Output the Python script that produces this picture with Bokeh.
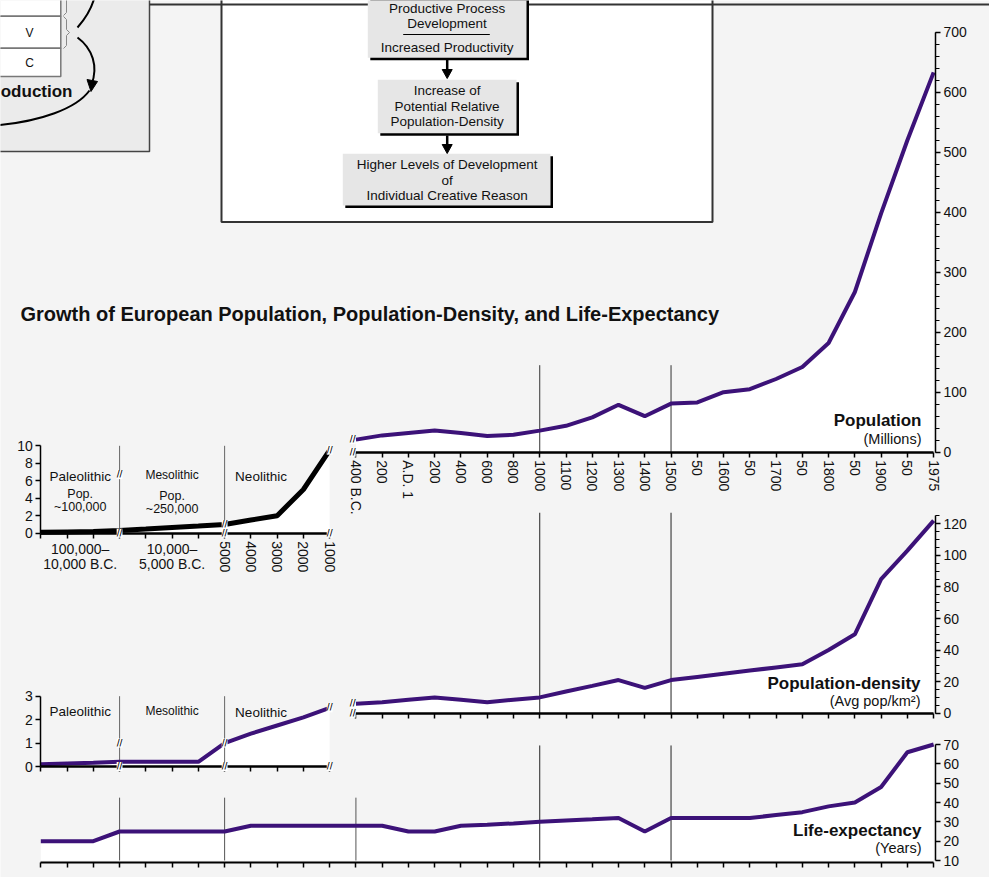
import math
from bokeh.plotting import figure
from bokeh.models import Range1d, LinearAxis, FixedTicker, SingleIntervalTicker
from bokeh.core.properties import value
from bokeh.embed import file_html
from bokeh.resources import INLINE

# ---------------- data ----------------
# prehistoric slots 0..11 : Paleolithic 0-3, Mesolithic 3-7, Neolithic 7-11 (5000..1000 B.C.)
pre_tick_labels = ["", "", "", "", "", "", "", "5000", "4000", "3000", "2000", "1000"]
pre_population = [0.1, 0.15, 0.2, 0.3, 0.47, 0.65, 0.82, 1.0, 1.5, 2.0, 5.0, 9.5]      # millions
pre_density = [0.1, 0.13, 0.16, 0.2, 0.2, 0.2, 0.2, 1.0, 1.4, 1.75, 2.1, 2.5]          # pop/km2
era_names = ["Paleolithic", "Mesolithic", "Neolithic"]
era_bounds = [0, 3, 7, 11]
era_pop_notes = ["~100,000", "~250,000"]
era_span_top = ["100,000–", "10,000–"]
era_span_bottom = ["10,000 B.C.", "5,000 B.C."]

# historic slots 12..34
hist_tick_labels = ["400 B.C.", "200", "A.D. 1", "200", "400", "600", "800", "1000", "1100",
                    "1200", "1300", "1400", "1500", "50", "1600", "50", "1700", "50", "1800",
                    "50", "1900", "50", "1975"]
hist_population = [21, 28, 32, 36, 32, 27, 29, 36, 44, 58, 79, 60, 81, 83, 100, 105, 122,
                   142, 182, 267, 398, 520, 633]
hist_density = [6, 7, 8.5, 10, 8.5, 7, 8.5, 10, 13.7, 17.3, 21, 16, 21, 23, 25, 27, 29, 31,
                40, 50, 85, 103, 122]
# life expectancy over all 35 slots (prehistoric + historic)
life_expectancy = [20, 20, 20, 25, 25, 25, 25, 25, 28, 28, 28, 28, 28, 28, 25, 25, 28, 28.5,
                   29.2, 30, 30.7, 31.3, 32, 25, 32, 32, 32, 32, 33.5, 35, 38, 40, 48, 66, 70]
marked_years = ["1000", "1500"]

pre_x = list(range(len(pre_population)))
hist_x = [len(pre_x) + i for i in range(len(hist_population))]
all_x = pre_x + hist_x
mark_x = [hist_x[hist_tick_labels.index(y)] for y in marked_years]
era_div = era_bounds[1:3]
era_center = [(era_bounds[i] + era_bounds[i + 1]) / 2 for i in range(3)]

# ---------------- layout ----------------
W, H, OFF = 989, 877, 0
X0, STEP = 40.3, 26.26
PURPLE = "#3c1278"
BG = "#f4f4f4"
FONT = "Liberation Sans"


def yr(v1, Y1, v2, Y2):
    c1, c2 = Y1 - OFF, Y2 - OFF
    s = (v2 - v1) / (c1 - c2)
    return Range1d(start=v1 + (c1 - H) * s, end=v1 + c1 * s)


p = figure(width=W, height=H, output_backend="svg", toolbar_location=None,
           x_axis_type=None, y_axis_type=None,
           x_range=Range1d((OFF - X0) / STEP, (OFF + W - X0) / STEP),
           y_range=Range1d(OFF + H, OFF), min_border=0,
           background_fill_color=BG, border_fill_color=BG, outline_line_color=None)
p.extra_x_ranges = {"px": Range1d(OFF, OFF + W)}
p.extra_y_ranges = {
    "pop": yr(0, 451.7, 700, 31.7),
    "ppop": yr(0, 532.7, 10, 445.3),
    "dens": yr(0, 712.7, 120, 523.3),
    "pdens": yr(0, 766, 3, 695.7),
    "life": yr(10, 860, 70, 744),
}

# ---------------- diagram (top) ----------------
p.quad(left=[-10], right=[149], top=[-10], bottom=[151], x_range_name="px",
       fill_color="#ebebeb", line_color="#444", line_width=1.5)
p.quad(left=[-10] * 3, right=[60.3] * 3, top=[-10, 15.7, 47.7], bottom=[15.7, 47.7, 76],
       x_range_name="px", fill_color="white", line_color="#777", line_width=1.5)
p.text(x=[29, 29], y=[32, 62], text=["V", "C"], x_range_name="px",
       text_font=value(FONT), text_font_size="12px", text_align="center",
       text_baseline="middle", text_color="#111")
p.multi_line(xs=[[63, 66, 66, 69, 66, 66, 63], [66, 66, 63]],
             ys=[[16, 19, 29, 32, 35, 45, 48], [-5, 12, 15]], x_range_name="px",
             line_color="#888", line_width=1)
p.bezier(x0=[77, 77, -5], y0=[27, 37, 125], x1=[94, 91, 89], y1=[-3, 84, 90],
         cx0=[85, 92, 40], cy0=[18, 48, 121], cx1=[91, 98, 76], cy1=[8, 66, 108],
         x_range_name="px", line_color="black", line_width=2)
p.patch(x=[86.5, 97, 90.5], y=[79, 81, 91], x_range_name="px", color="black")
p.text(x=[72], y=[91], text=["oduction"], x_range_name="px", text_font=value(FONT),
       text_font_style="bold", text_font_size="17px", text_align="right",
       text_baseline="middle", text_color="#111")

p.quad(left=[221], right=[712], top=[-10], bottom=[221.5], x_range_name="px",
       fill_color="white", line_color="#333", line_width=2)
p.segment(x0=[149], y0=[4], x1=[1000], y1=[4], x_range_name="px",
          line_color="#333", line_width=2)
bx_l = [367.3, 377.3, 342.3]
bx_r = [526, 516, 550]
bx_t = [-10, 79.3, 153.3]
bx_b = [57.3, 132.7, 205]
p.quad(left=[v + 2.5 for v in bx_l], right=[v + 2.5 for v in bx_r],
       top=[v + 2.5 for v in bx_t], bottom=[v + 2.5 for v in bx_b],
       x_range_name="px", fill_color="black", line_color=None)
p.quad(left=bx_l, right=bx_r, top=bx_t, bottom=bx_b, x_range_name="px",
       fill_color="#e6e6e6", line_color=None)
p.segment(x0=[402.7], y0=[34], x1=[489.3], y1=[34], x_range_name="px",
          line_color="black", line_width=1)
p.segment(x0=[446.7, 446.7], y0=[59, 135], x1=[446.7, 446.7], y1=[72, 147],
          x_range_name="px", line_color="black", line_width=2.5)
p.patches(xs=[[441.7, 451.7, 446.7], [441.7, 451.7, 446.7]],
          ys=[[69, 69, 78], [144, 144, 153]], x_range_name="px", color="black")
box_text = ["Productive Process", "Development", "Increased Productivity",
            "Increase of", "Potential Relative", "Population-Density",
            "Higher Levels of Development", "of", "Individual Creative Reason"]
p.text(x=[446.6] * 9, y=[7.5, 22.7, 46.7, 90, 106, 121, 164.3, 180, 195], text=box_text,
       x_range_name="px", text_font=value(FONT), text_font_size="13.5px",
       text_align="center", text_baseline="middle", text_color="#111")

p.text(x=[20], y=[313], text=["Growth of European Population, Population-Density, and Life-Expectancy"],
       x_range_name="px", text_font=value(FONT), text_font_style="bold",
       text_font_size="20px", text_baseline="middle", text_color="#111")

# ---------------- white fills ----------------
p.varea(x=hist_x, y1=0, y2=hist_population, y_range_name="pop", fill_color="white")
p.varea(x=pre_x, y1=0, y2=pre_population, y_range_name="ppop", fill_color="white")
p.varea(x=hist_x, y1=0, y2=hist_density, y_range_name="dens", fill_color="white")
p.varea(x=pre_x, y1=0, y2=pre_density, y_range_name="pdens", fill_color="white")
p.varea(x=all_x, y1=10, y2=life_expectancy, y_range_name="life", fill_color="white")

# ---------------- vertical period lines ----------------
p.segment(x0=mark_x, y0=0, x1=mark_x, y1=145, y_range_name="pop", line_color="#333", line_width=1)
p.segment(x0=mark_x, y0=0, x1=mark_x, y1=127, y_range_name="dens", line_color="#222", line_width=1)
p.segment(x0=mark_x, y0=10, x1=mark_x, y1=69.5, y_range_name="life", line_color="#222", line_width=1)
p.segment(x0=era_div, y0=0, x1=era_div, y1=10, y_range_name="ppop", line_color="#666", line_width=1)
p.segment(x0=era_div, y0=0, x1=era_div, y1=3, y_range_name="pdens", line_color="#666", line_width=1)
p.segment(x0=era_div + [hist_x[0]], y0=10, x1=era_div + [hist_x[0]], y1=42.5, y_range_name="life",
          line_color="#555", line_width=1)

# ---------------- curves ----------------
p.line(hist_x, hist_population, y_range_name="pop", line_color=PURPLE, line_width=4)
p.line(pre_x, pre_population, y_range_name="ppop", line_color="black", line_width=5)
p.line(hist_x, hist_density, y_range_name="dens", line_color=PURPLE, line_width=4)
p.line(pre_x, pre_density, y_range_name="pdens", line_color=PURPLE, line_width=4)
p.line(all_x, life_expectancy, y_range_name="life", line_color=PURPLE, line_width=4)

# ---------------- text labels ----------------
tk = dict(text_font=value(FONT), text_baseline="middle", text_color="#111")
p.text(x=[921, 921, 920, 920, 921, 921], y=[420, 438, 683, 700, 830, 847],
       text=["Population", "(Millions)", "Population-density", "(Avg pop/km²)",
             "Life-expectancy", "(Years)"],
       text_font_size=["17px", "14.5px"] * 3,
       text_font_style=["bold", "normal"] * 3,
       x_range_name="px", text_align="right", **tk)
# era names (population inset and density inset)
p.text(x=era_center[:2], y=[476, 474], text=era_names[:2], text_font_size=["13.5px", "12px"],
       text_align="center", **tk)
p.text(x=[era_bounds[2] + 0.4], y=[476], text=era_names[2:], text_font_size="13.5px",
       text_align="left", **tk)
p.text(x=era_center[:2], y=[711, 710], text=era_names[:2], text_font_size=["13.5px", "12px"],
       text_align="center", **tk)
p.text(x=[era_bounds[2] + 0.4], y=[712], text=era_names[2:], text_font_size="13.5px",
       text_align="left", **tk)
p.text(x=era_center[:2] + era_center[:2], y=[493, 495, 506, 508],
       text=["Pop.", "Pop."] + era_pop_notes, text_font_size="12.5px", text_align="center", **tk)
p.text(x=era_center[:2] + era_center[:2], y=[548, 548, 563, 563],
       text=era_span_top + era_span_bottom, text_font_size="14px", text_align="center", **tk)

# ---------------- axes ----------------
def style(ax, fs="14px", lw=1.5):
    ax.axis_line_color = "black"
    ax.axis_line_width = lw
    ax.major_tick_line_color = "black"
    ax.major_tick_line_width = 1.5
    ax.major_tick_in = 0
    ax.major_tick_out = 5
    ax.minor_tick_line_color = "black"
    ax.minor_tick_line_width = 1.2
    ax.minor_tick_in = 0
    ax.minor_tick_out = 4
    ax.major_label_text_font = FONT
    ax.major_label_text_font_size = fs
    ax.major_label_text_color = "#111"
    ax.major_label_standoff = 3
    return ax


RIGHT = hist_x[-1] + 0.07
for rng, bnd, iv, nm in [("pop", (0, 700), 100, 5), ("dens", (0, 125), 20, 4), ("life", (10, 70), 10, 0)]:
    ax = LinearAxis(y_range_name=rng, fixed_location=RIGHT, bounds=bnd,
                    ticker=SingleIntervalTicker(interval=iv, num_minor_ticks=nm))
    p.add_layout(style(ax), "right")
for rng, bnd, iv in [("ppop", (0, 10), 2), ("pdens", (0, 3), 1)]:
    ax = LinearAxis(y_range_name=rng, fixed_location=0, bounds=bnd,
                    ticker=SingleIntervalTicker(interval=iv, num_minor_ticks=0))
    p.add_layout(style(ax), "left")

ax = LinearAxis(y_range_name="pop", fixed_location=0, bounds=(hist_x[0], hist_x[-1]),
                ticker=FixedTicker(ticks=hist_x),
                major_label_overrides={x: l for x, l in zip(hist_x, hist_tick_labels)},
                major_label_orientation="vertical")
p.add_layout(style(ax, lw=2.5), "below")
ax = LinearAxis(y_range_name="ppop", fixed_location=0, bounds=(pre_x[0], pre_x[-1]),
                ticker=FixedTicker(ticks=pre_x),
                major_label_overrides={x: l for x, l in zip(pre_x, pre_tick_labels)},
                major_label_orientation="vertical")
p.add_layout(style(ax, lw=2.5), "below")
for rng, xs, loc in [("dens", hist_x, 0), ("pdens", pre_x, 0), ("life", all_x, 9)]:
    ax = LinearAxis(y_range_name=rng, fixed_location=loc, bounds=(xs[0], xs[-1]),
                    ticker=FixedTicker(ticks=xs))
    style(ax, lw=2.5 if rng != "life" else 2)
    ax.major_label_text_color = None
    p.add_layout(ax, "below")

# ---------------- axis break marks ----------------
bk = dict(text_font=value("DejaVu Sans"), text_font_style="bold",
          text_font_size="8px", text_align="center", text_baseline="middle",
          background_fill_color="white", text_color="black", level="overlay")
bx = [era_div[0], era_div[0], era_div[1], era_div[1], pre_x[-1], pre_x[-1]]
p.text(x=bx, y=[6.7, 0, pre_population[era_div[1]], 0, pre_population[-1], 0],
       text=["//"] * 6, y_range_name="ppop", **bk)
p.text(x=bx, y=[1.0, 0, pre_density[era_div[1]], 0, pre_density[-1], 0],
       text=["//"] * 6, y_range_name="pdens", **bk)
hb = [hist_x[0] - 0.12] * 2
p.text(x=hb, y=[hist_population[0], 0], text=["//"] * 2, y_range_name="pop", **bk)
p.text(x=hb, y=[hist_density[0], 0], text=["//"] * 2, y_range_name="dens", **bk)

open("out.html", "w").write(file_html(p, INLINE))
